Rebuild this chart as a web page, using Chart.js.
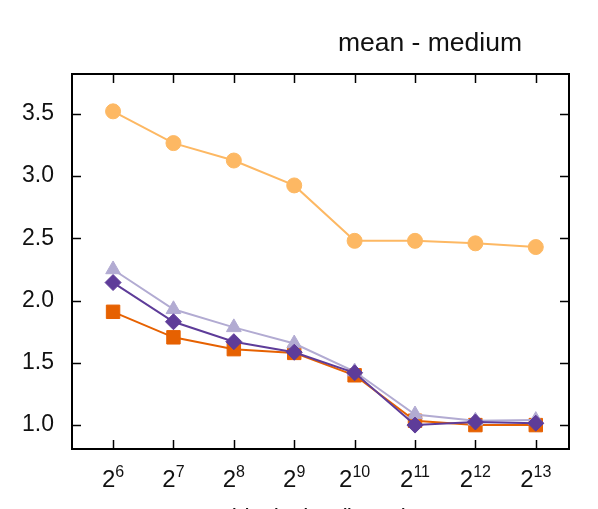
<!DOCTYPE html>
<html>
<head>
<meta charset="utf-8">
<script src="https://cdn.jsdelivr.net/npm/chart.js@4.4.1/dist/chart.umd.min.js"></script>
<style>
  html, body { margin: 0; padding: 0; background: #fff; }
  #wrap { width: 598px; height: 509px; }
</style>
</head>
<body>
<div id="wrap"><canvas id="chart" width="598" height="509"></canvas></div>
<script>
// exponents of the block size (2^n)
const exponents = [6, 7, 8, 9, 10, 11, 12, 13];
const yTicks = [1.0, 1.5, 2.0, 2.5, 3.0, 3.5];

// values
const circleValues   = [3.52, 3.265, 3.125, 2.925, 2.48, 2.48, 2.46, 2.43];
const triangleValues = [2.25, 1.93, 1.785, 1.655, 1.43, 1.085, 1.035, 1.04];
const diamondValues  = [2.145, 1.83, 1.67, 1.585, 1.42, 1.0, 1.025, 1.015];
const squareValues   = [1.91, 1.705, 1.61, 1.58, 1.40, 1.035, 1.0, 1.0];

const titleText = 'mean - medium';
const xTitleText = 'block size (bytes)';
const fontFamily = '"Liberation Sans", Arial, sans-serif';

function points(values) {
    return values.map((v, i) => ({ x: exponents[i], y: v }));
}

function series(label, values, color, style, radius) {
    return {
        label,
        data: points(values),
        borderColor: color,
        backgroundColor: color,
        pointBackgroundColor: color,
        pointBorderColor: color,
        pointBorderWidth: 1,
        pointStyle: style,
        pointRadius: radius,
        pointHoverRadius: radius,
        borderWidth: 2,
        tension: 0
    };
}

// gnuplot style frame, inward ticks, superscript x labels and titles
const framePlugin = {
    id: 'frame',
    afterDraw(chart) {
        const { ctx, chartArea: a, scales: { x, y } } = chart;
        ctx.save();
        ctx.strokeStyle = '#000';
        ctx.lineWidth = 1.5;
        const tick = 9;
        const line = (x1, y1, x2, y2) => {
            ctx.beginPath();
            ctx.moveTo(x1, y1);
            ctx.lineTo(x2, y2);
            ctx.stroke();
        };
        exponents.forEach(e => {
            const px = Math.round(x.getPixelForValue(e)) + 0.5;
            line(px, a.bottom, px, a.bottom - tick);
            line(px, a.top, px, a.top + tick);
        });
        yTicks.forEach(v => {
            const py = Math.round(y.getPixelForValue(v)) + 0.5;
            line(a.left, py, a.left + tick, py);
            line(a.right, py, a.right - tick, py);
        });
        ctx.lineWidth = 2;
        ctx.strokeRect(a.left, a.top, a.right - a.left, a.bottom - a.top);

        // x tick labels as 2 with an exponent
        ctx.fillStyle = '#111';
        ctx.textBaseline = 'alphabetic';
        ctx.textAlign = 'left';
        exponents.forEach(e => {
            const px = x.getPixelForValue(e);
            ctx.font = '24px ' + fontFamily;
            const wb = ctx.measureText('2').width;
            ctx.font = '16px ' + fontFamily;
            const we = ctx.measureText(String(e)).width;
            const start = px - (wb + we) / 2;
            ctx.font = '24px ' + fontFamily;
            ctx.fillText('2', start, a.bottom + 38);
            ctx.font = '16px ' + fontFamily;
            ctx.fillText(String(e), start + wb, a.bottom + 28);
        });

        ctx.textAlign = 'center';
        ctx.font = '26.5px ' + fontFamily;
        ctx.fillText(titleText, 430, 51);
        ctx.font = '23px ' + fontFamily;
        ctx.fillText(xTitleText, (a.left + a.right) / 2, a.bottom + 77);
        ctx.restore();
    }
};

const ctx = document.getElementById('chart').getContext('2d');
new Chart(ctx, {
    type: 'line',
    data: {
        datasets: [
            series('diamond', diamondValues, '#5e3c99', 'rectRot', 8),
            series('triangle', triangleValues, '#b2abd2', 'triangle', 8.5),
            series('square', squareValues, '#e66101', 'rect', 9.5),
            series('circle', circleValues, '#fdb863', 'circle', 7.5)
        ]
    },
    options: {
        responsive: false,
        animation: false,
        layout: { padding: { top: 74, right: 29, left: 0, bottom: 0 } },
        plugins: {
            legend: { display: false },
            tooltip: { enabled: false },
            title: { display: false }
        },
        scales: {
            x: {
                type: 'linear',
                min: 5.32,
                max: 13.55,
                grid: { display: false },
                border: { display: false },
                ticks: { display: false },
                afterFit(scale) { scale.height = 60; }
            },
            y: {
                type: 'linear',
                min: 0.808,
                max: 3.82,
                grid: { display: false, drawTicks: false },
                border: { display: false },
                afterBuildTicks(scale) {
                    scale.ticks = yTicks.map(v => ({ value: v }));
                },
                ticks: {
                    padding: 18,
                    color: '#111',
                    font: { family: fontFamily, size: 23 },
                    callback: v => Number(v).toFixed(1)
                },
                afterFit(scale) { scale.width = 72; }
            }
        }
    },
    plugins: [framePlugin]
});
</script>
</body>
</html>
